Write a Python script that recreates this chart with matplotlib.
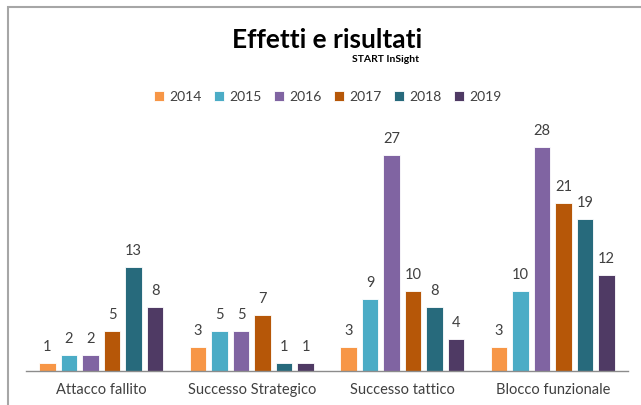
import numpy as np
import matplotlib
matplotlib.use("Agg")
import matplotlib.pyplot as plt
from matplotlib.patches import Rectangle

plt.rcParams["font.family"] = ["Lato", "DejaVu Sans"]

categories = ["Attacco fallito", "Successo Strategico", "Successo tattico", "Blocco funzionale"]
years = ["2014", "2015", "2016", "2017", "2018", "2019"]
values = {
    "2014": [1, 3, 3, 3],
    "2015": [2, 5, 9, 10],
    "2016": [2, 5, 27, 28],
    "2017": [5, 7, 10, 21],
    "2018": [13, 1, 8, 19],
    "2019": [8, 1, 4, 12],
}
colors = ["#F79646", "#4BACC6", "#8064A2", "#B65708", "#276A7C", "#4F3A64"]

fig = plt.figure(figsize=(6.41, 4.05), dpi=100)
W, H = 641, 405

# frame around the chart (screenshot border)
fig.add_artist(Rectangle((7.5 / W, -0.1), 1.2, 1 - 6.5 / H + 0.1,
                         transform=fig.transFigure, fill=False,
                         edgecolor="#A6A6A6", linewidth=1.5))

ax = fig.add_axes([26 / W, (H - 370.5) / H, (628 - 26) / W, (370.5 - 120) / H])
x = np.arange(len(categories))
step = 0.143
width = 0.11
for i, (yr, c) in enumerate(zip(years, colors)):
    pos = x + (i - 2.5) * step
    bars = ax.bar(pos, values[yr], width, color=c, edgecolor="white", linewidth=0.6, label=yr)
    for p, v in zip(pos, values[yr]):
        ax.text(p, v + 1.1, str(v), ha="center", va="bottom", fontsize=10.5, color="#404040")

ax.set_xlim(-0.5, 3.5)
ax.set_ylim(0, (370.5 - 120) / 8)
ax.set_yticks([])
ax.set_xticks(x)
ax.set_xticklabels(categories, fontsize=10.5, color="#404040")
ax.tick_params(axis="x", length=0, pad=9)
for s in ["top", "right", "left"]:
    ax.spines[s].set_visible(False)
ax.spines["bottom"].set_color("#8C8C8C")
ax.spines["bottom"].set_linewidth(1.0)

fig.text(327 / W, 1 - 40 / H, "Effetti e risultati", ha="center", va="center",
         fontsize=19, fontweight="bold", color="black")
fig.text(385 / W, 1 - 60 / H, "START InSight", ha="center", va="center",
         fontsize=7.5, fontweight="bold", color="black")

fig.legend(loc="center", bbox_to_anchor=(328 / W, 1 - 97 / H), ncol=6, frameon=False,
           fontsize=10, handlelength=0.7, handleheight=0.7, handletextpad=0.4,
           columnspacing=0.9, labelcolor="#404040")

fig.savefig("out.png", dpi=100)
